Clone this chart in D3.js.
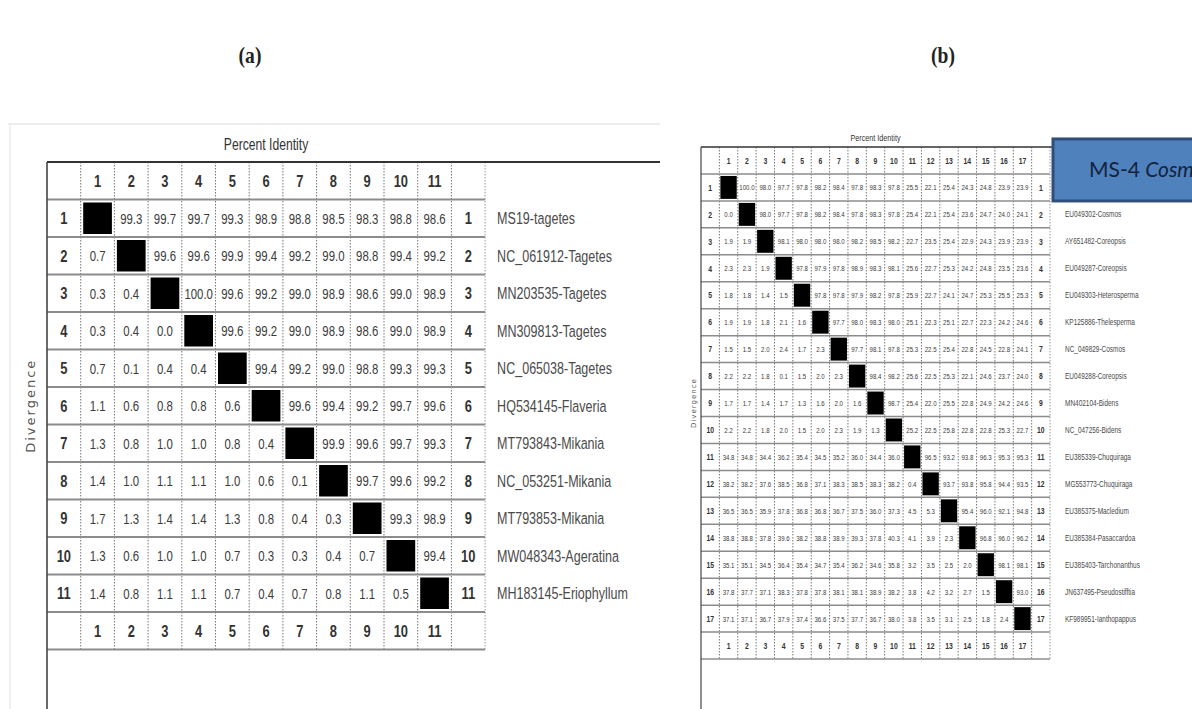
<!DOCTYPE html>
<html>
<head>
<meta charset="utf-8">
<script src="https://cdn.jsdelivr.net/npm/d3@7"></script>
<style>
  html, body { margin: 0; padding: 0; background: #fff; }
  svg { display: block; font-family: "Liberation Sans", Arial, sans-serif; }
</style>
</head>
<body>
<div id="chart"></div>
<script>
// ---- data ----
// panel (a): upper triangle = percent identity, lower triangle = divergence
const namesA = ["MS19-tagetes", "NC_061912-Tagetes", "MN203535-Tagetes", "MN309813-Tagetes",
  "NC_065038-Tagetes", "HQ534145-Flaveria", "MT793843-Mikania", "NC_053251-Mikania",
  "MT793853-Mikania", "MW048343-Ageratina", "MH183145-Eriophyllum"];
const valuesA = [
  [null, 99.3, 99.7, 99.7, 99.3, 98.9, 98.8, 98.5, 98.3, 98.8, 98.6],
  [0.7, null, 99.6, 99.6, 99.9, 99.4, 99.2, 99.0, 98.8, 99.4, 99.2],
  [0.3, 0.4, null, 100.0, 99.6, 99.2, 99.0, 98.9, 98.6, 99.0, 98.9],
  [0.3, 0.4, 0.0, null, 99.6, 99.2, 99.0, 98.9, 98.6, 99.0, 98.9],
  [0.7, 0.1, 0.4, 0.4, null, 99.4, 99.2, 99.0, 98.8, 99.3, 99.3],
  [1.1, 0.6, 0.8, 0.8, 0.6, null, 99.6, 99.4, 99.2, 99.7, 99.6],
  [1.3, 0.8, 1.0, 1.0, 0.8, 0.4, null, 99.9, 99.6, 99.7, 99.3],
  [1.4, 1.0, 1.1, 1.1, 1.0, 0.6, 0.1, null, 99.7, 99.6, 99.2],
  [1.7, 1.3, 1.4, 1.4, 1.3, 0.8, 0.4, 0.3, null, 99.3, 98.9],
  [1.3, 0.6, 1.0, 1.0, 0.7, 0.3, 0.3, 0.4, 0.7, null, 99.4],
  [1.4, 0.8, 1.1, 1.1, 0.7, 0.4, 0.7, 0.8, 1.1, 0.5, null]
];

// panel (b)
const namesB = ["MS-4 Cosmos", "EU049302-Cosmos", "AY651482-Coreopsis", "EU049287-Coreopsis",
  "EU049303-Heterosperma", "KP125886-Thelesperma", "NC_049829-Cosmos", "EU049288-Coreopsis",
  "MN402104-Bidens", "NC_047256-Bidens", "EU385339-Chuquiraga", "MG553773-Chuquiraga",
  "EU385375-Macledium", "EU385384-Pasaccardoa", "EU385403-Tarchonanthus",
  "JN637495-Pseudostifftia", "KF989951-Ianthopappus"];
const valuesB = [
  [null, 100.0, 98.0, 97.7, 97.8, 98.2, 98.4, 97.8, 98.3, 97.8, 25.5, 22.1, 25.4, 24.3, 24.8, 23.9, 23.9],
  [0.0, null, 98.0, 97.7, 97.8, 98.2, 98.4, 97.8, 98.3, 97.8, 25.4, 22.1, 25.4, 23.6, 24.7, 24.0, 24.1],
  [1.9, 1.9, null, 98.1, 98.0, 98.0, 98.0, 98.2, 98.5, 98.2, 22.7, 23.5, 25.4, 22.9, 24.3, 23.9, 23.9],
  [2.3, 2.3, 1.9, null, 97.8, 97.9, 97.8, 98.9, 98.3, 98.1, 25.6, 22.7, 25.3, 24.2, 24.8, 23.5, 23.6],
  [1.8, 1.8, 1.4, 1.5, null, 97.8, 97.8, 97.9, 98.2, 97.8, 25.9, 22.7, 24.1, 24.7, 25.3, 25.5, 25.3],
  [1.9, 1.9, 1.8, 2.1, 1.6, null, 97.7, 98.0, 98.3, 98.0, 25.1, 22.3, 25.1, 22.7, 22.3, 24.2, 24.6],
  [1.5, 1.5, 2.0, 2.4, 1.7, 2.3, null, 97.7, 98.1, 97.8, 25.3, 22.5, 25.4, 22.8, 24.5, 22.8, 24.1],
  [2.2, 2.2, 1.8, 0.1, 1.5, 2.0, 2.3, null, 98.4, 98.2, 25.6, 22.5, 25.3, 22.1, 24.6, 23.7, 24.0],
  [1.7, 1.7, 1.4, 1.7, 1.3, 1.6, 2.0, 1.6, null, 98.7, 25.4, 22.0, 25.5, 22.8, 24.9, 24.2, 24.6],
  [2.2, 2.2, 1.8, 2.0, 1.5, 2.0, 2.3, 1.9, 1.3, null, 25.2, 22.5, 25.8, 22.8, 22.8, 25.3, 22.7],
  [34.8, 34.8, 34.4, 36.2, 35.4, 34.5, 35.2, 36.0, 34.4, 36.0, null, 96.5, 93.2, 93.8, 96.3, 95.3, 95.3],
  [38.2, 38.2, 37.6, 38.5, 36.8, 37.1, 38.3, 38.5, 38.3, 38.2, 0.4, null, 93.7, 93.8, 95.8, 94.4, 93.5],
  [36.5, 36.5, 35.9, 37.8, 36.8, 36.8, 36.7, 37.5, 36.0, 37.3, 4.5, 5.3, null, 95.4, 96.0, 92.1, 94.8],
  [38.8, 38.8, 37.8, 39.6, 38.2, 38.8, 38.9, 39.3, 37.8, 40.3, 4.1, 3.9, 2.3, null, 96.8, 96.0, 96.2],
  [35.1, 35.1, 34.5, 36.4, 35.4, 34.7, 35.4, 36.2, 34.6, 35.8, 3.2, 3.5, 2.5, 2.0, null, 98.1, 98.1],
  [37.8, 37.7, 37.1, 38.3, 37.8, 37.8, 38.1, 38.1, 38.9, 38.2, 3.8, 4.2, 3.2, 2.7, 1.5, null, 93.0],
  [37.1, 37.1, 36.7, 37.9, 37.4, 36.6, 37.5, 37.7, 36.7, 38.0, 3.8, 3.5, 3.1, 2.5, 1.8, 2.4, null]
];

const W = 1192, H = 709;
const NARROW = 0.76;   // horizontal squeeze, stands in for Arial Narrow

const svg = d3.select('#chart').append('svg')
    .attr('width', W)
    .attr('height', H);

svg.append('rect').attr('width', W).attr('height', H).attr('fill', '#fff');

// place a condensed text at (px, py)
function squeeze(px, py) {
  return 'translate(' + px + ',' + py + ') scale(' + NARROW + ',1)';
}

// faint frame round panel (a)
svg.append('line').attr('x1', 8).attr('x2', 660).attr('y1', 124).attr('y2', 124)
    .attr('stroke', '#ececec').attr('stroke-width', 2);
svg.append('line').attr('x1', 10).attr('x2', 10).attr('y1', 124).attr('y2', H)
    .attr('stroke', '#f0f0f0').attr('stroke-width', 2);

// panel titles
[['(a)', 250], ['(b)', 943]].forEach(t => {
  svg.append('text')
      .attr('transform', 'translate(' + t[1] + ',63) scale(0.85,1)')
      .attr('text-anchor', 'middle')
      .attr('font-family', 'Liberation Serif, serif').attr('font-weight', 'bold')
      .attr('font-size', 23).attr('fill', '#222').text(t[0]);
});

// reusable identity / divergence table
function matrixTable(cfg) {
  const n = cfg.values.length;
  const idx = d3.range(1, n + 1);

  const x = d3.scaleBand()
      .domain(['lab', ...idx, 'end'])
      .range([cfg.left, cfg.left + (n + 2) * cfg.colW]);
  const y = d3.scaleBand()
      .domain(['head', ...idx, 'foot'])
      .range([cfg.top, cfg.top + (n + 2) * cfg.rowH]);

  const g = svg.append('g');
  const right = x.range()[1], bottom = y.range()[1];
  const cx = d => x(d) + x.bandwidth() / 2;
  const cy = d => y(d) + y.bandwidth() / 2;

  // vertical dotted separators
  g.selectAll('.vsep')
    .data(idx.concat(['end']))
    .enter().append('line')
      .attr('x1', d => x(d)).attr('x2', d => x(d))
      .attr('y1', cfg.top).attr('y2', bottom)
      .attr('stroke', '#777').attr('stroke-width', 1)
      .attr('stroke-dasharray', '1.5,1.5');
  g.append('line')
      .attr('x1', right).attr('x2', right)
      .attr('y1', cfg.top).attr('y2', bottom)
      .attr('stroke', '#999').attr('stroke-width', 1)
      .attr('stroke-dasharray', '1.5,1.5');

  // horizontal separators
  g.selectAll('.hsep')
    .data(['head', ...idx, 'foot'])
    .enter().append('line')
      .attr('x1', cfg.left).attr('x2', right)
      .attr('y1', d => y(d) + y.bandwidth()).attr('y2', d => y(d) + y.bandwidth())
      .attr('stroke', '#8c8c8c').attr('stroke-width', cfg.hWidth);

  // top rule and left border running down the page
  g.append('line')
      .attr('x1', cfg.left).attr('x2', cfg.topEnd)
      .attr('y1', cfg.top).attr('y2', cfg.top)
      .attr('stroke', '#333').attr('stroke-width', cfg.hWidth);
  g.append('line')
      .attr('x1', cfg.left).attr('x2', cfg.left)
      .attr('y1', cfg.top).attr('y2', H)
      .attr('stroke', '#444').attr('stroke-width', cfg.hWidth * 0.8);

  // header and footer index numbers
  ['head', 'foot'].forEach(r => {
    g.selectAll('.idx-' + r)
      .data(idx)
      .enter().append('text')
        .attr('transform', d => squeeze(cx(d), cy(r)))
        .attr('dy', '0.36em')
        .attr('text-anchor', 'middle')
        .attr('font-size', cfg.idxSize)
        .attr('font-weight', 'bold')
        .attr('fill', '#333')
        .text(d => d);
  });
  // row index numbers on both sides
  ['lab', 'end'].forEach(c => {
    g.selectAll('.ridx-' + c)
      .data(idx)
      .enter().append('text')
        .attr('transform', d => squeeze(cx(c), cy(d)))
        .attr('dy', '0.36em')
        .attr('text-anchor', 'middle')
        .attr('font-size', cfg.idxSize)
        .attr('font-weight', 'bold')
        .attr('fill', '#333')
        .text(d => d);
  });

  // cells
  const cells = [];
  cfg.values.forEach((row, i) => row.forEach((v, j) => cells.push({ r: i + 1, c: j + 1, v: v })));

  g.selectAll('.diag')
    .data(cells.filter(d => d.v === null))
    .enter().append('rect')
      .attr('x', d => x(d.c) + cfg.insetX)
      .attr('y', d => y(d.r) + cfg.insetY)
      .attr('width', x.bandwidth() - 2 * cfg.insetX)
      .attr('height', y.bandwidth() - 2 * cfg.insetY)
      .attr('fill', '#000');

  g.selectAll('.val')
    .data(cells.filter(d => d.v !== null))
    .enter().append('text')
      .attr('transform', d => squeeze(cx(d.c), cy(d.r)))
      .attr('dy', '0.36em')
      .attr('text-anchor', 'middle')
      .attr('font-size', cfg.valSize)
      .attr('fill', '#3a3a3a')
      .text(d => d.v.toFixed(1));

  // sequence names
  g.selectAll('.name')
    .data(cfg.names.map((nm, i) => ({ nm: nm, r: i + 1 })).filter(d => !cfg.skipName || d.r !== 1))
    .enter().append('text')
      .attr('transform', d => squeeze(right + cfg.nameGap, cy(d.r)))
      .attr('dy', '0.36em')
      .attr('font-size', cfg.nameSize)
      .attr('fill', '#4a4a4a')
      .text(d => d.nm);

  // axis titles
  g.append('text')
      .attr('transform', squeeze(cfg.left + (right - cfg.left) / 2, cfg.top - cfg.titleGap))
      .attr('text-anchor', 'middle')
      .attr('font-size', cfg.titleSize)
      .attr('fill', '#333')
      .text('Percent Identity');
  g.append('text')
      .attr('transform', 'translate(' + cfg.divX + ',' + (cfg.top + (bottom - cfg.top) / 2) + ') rotate(-90)')
      .attr('text-anchor', 'middle')
      .attr('dy', '0.36em')
      .attr('font-family', 'DejaVu Sans, sans-serif')
      .attr('font-size', cfg.divSize)
      .attr('letter-spacing', cfg.divSpacing)
      .attr('fill', '#555')
      .text('Divergence');

  return { x: x, y: y, right: right };
}

matrixTable({
  values: valuesA, names: namesA,
  left: 47, top: 162, colW: 33.7, rowH: 37.5, topEnd: 660,
  hWidth: 2, insetX: 2.5, insetY: 3,
  idxSize: 17, valSize: 15, nameSize: 16.5, nameGap: 12,
  titleSize: 16, titleGap: 12, divX: 30, divSize: 13, divSpacing: 2
});

const tb = matrixTable({
  values: valuesB, names: namesB, skipName: true,
  left: 701, top: 147, colW: 18.37, rowH: 26.95, topEnd: 1062,
  hWidth: 1.5, insetX: 1, insetY: 2,
  idxSize: 9, valSize: 8, nameSize: 8.5, nameGap: 15,
  titleSize: 9.5, titleGap: 6, divX: 693, divSize: 7, divSpacing: 1
});

// callout box naming sequence 1 of panel (b); it runs past the page edge as in the source
const box = svg.append('g');
box.append('rect')
    .attr('x', 1053).attr('y', tb.y(1) - 35)
    .attr('width', 160).attr('height', 62)
    .attr('fill', '#4f81bd').attr('stroke', '#2f4f7a').attr('stroke-width', 3);
const boxText = box.append('text')
    .attr('x', 1089).attr('y', tb.y(1) + 3)
    .attr('font-family', 'Lato, "Open Sans", sans-serif')
    .attr('font-size', 21)
    .attr('fill', '#14233d');
boxText.append('tspan').text('MS-4 ');
boxText.append('tspan').attr('font-style', 'italic').text(namesB[0].replace('MS-4 ', ''));
</script>
</body>
</html>
